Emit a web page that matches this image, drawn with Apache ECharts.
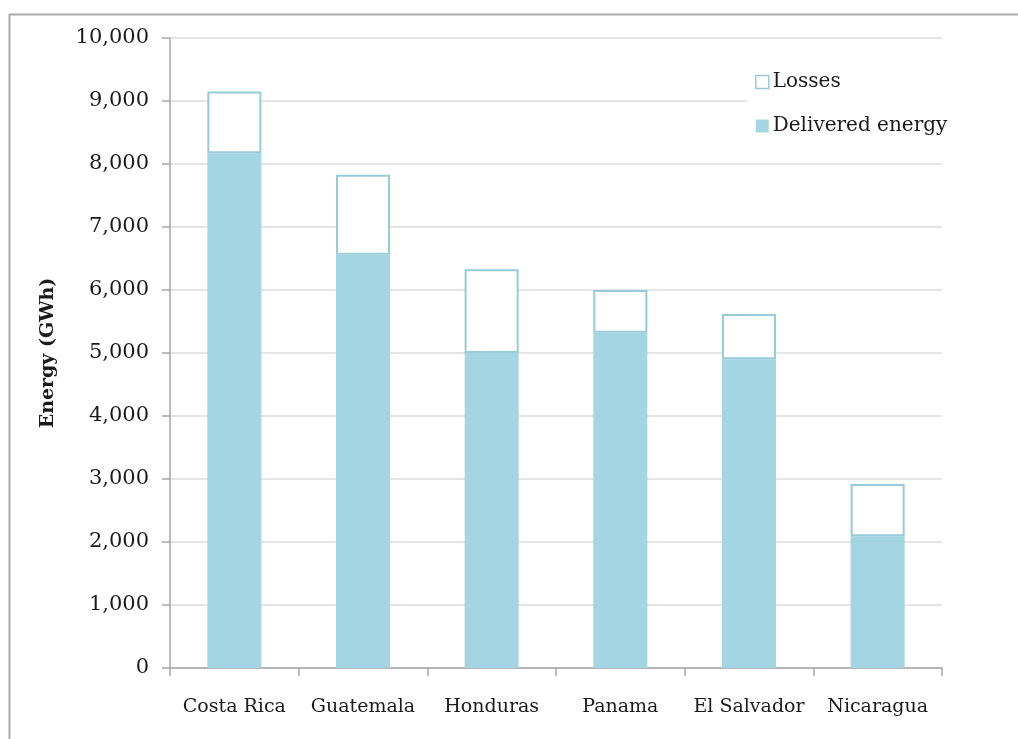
<!DOCTYPE html>
<html>
<head>
<meta charset="utf-8">
<script src="https://cdn.jsdelivr.net/npm/echarts@6/dist/echarts.min.js"></script>
<style>
  html, body { margin: 0; padding: 0; background: #fff; }
  #chart { width: 1018px; height: 739px; }
</style>
</head>
<body>
<div id="chart"></div>
<script>
// Electricity supplied per country, GWh
const countries = ['Costa Rica', 'Guatemala', 'Honduras', 'Panama', 'El Salvador', 'Nicaragua'];
const delivered = [8170, 6560, 5000, 5320, 4900, 2090];
const losses = [980, 1270, 1330, 680, 720, 830];
const yTicks = { min: 0, max: 10000, interval: 1000 };

const FONT = 'DejaVu Serif';
const INK = '#1a1a1a';
const BLUE = '#a4d5e2';
const EDGE = '#97cbda';

const chart = echarts.init(document.getElementById('chart'), null, { renderer: 'canvas' });

chart.setOption({
  backgroundColor: '#fff',
  animation: false,
  textStyle: { fontFamily: FONT, color: INK },
  graphic: [{
    type: 'rect',
    left: 7, top: 12,
    shape: { width: 1100, height: 800 },
    style: { fill: 'none', stroke: '#a9a9a9', lineWidth: 2 },
    silent: true, z: 0
  }],
  grid: { left: 170, right: 76, top: 38, bottom: 71, containLabel: false },
  legend: {
    data: [
      { name: 'Losses', itemStyle: { color: '#fff', borderColor: EDGE, borderWidth: 1.5 } },
      { name: 'Delivered energy', itemStyle: { color: BLUE } }
    ],
    icon: 'rect',
    orient: 'vertical',
    left: 747, top: 67,
    itemWidth: 13, itemHeight: 13,
    itemGap: 24,
    padding: [5, 8, 5, 8],
    backgroundColor: '#fff',
    textStyle: { fontFamily: FONT, fontSize: 20, color: INK, padding: [0, 0, 0, -1] },
    z: 10
  },
  xAxis: {
    type: 'category',
    data: countries,
    axisLine: { lineStyle: { color: '#a6a6a6', width: 1.5 } },
    axisTick: { show: true, interval: 0, length: 8, lineStyle: { color: '#a6a6a6', width: 1.5 } },
    axisLabel: { interval: 0, fontFamily: FONT, fontSize: 19, color: INK, margin: 30 }
  },
  yAxis: {
    type: 'value',
    min: yTicks.min, max: yTicks.max, interval: yTicks.interval,
    name: 'Energy (GWh)',
    nameLocation: 'middle',
    nameGap: 112,
    nameTextStyle: { fontFamily: FONT, fontSize: 19, fontWeight: 'bold', color: INK },
    axisLine: { show: true, lineStyle: { color: '#a6a6a6', width: 1.5 } },
    axisTick: { show: true, length: 8, lineStyle: { color: '#a6a6a6', width: 1.5 } },
    axisLabel: {
      fontFamily: FONT, fontSize: 21, color: INK, margin: 21,
      formatter: v => v.toLocaleString('en-US')
    },
    splitLine: { lineStyle: { color: '#dcdcdc', width: 1.5 } }
  },
  series: [
    {
      name: 'Delivered energy',
      type: 'bar',
      stack: 'total',
      data: delivered,
      barWidth: '42%',
      itemStyle: { color: BLUE }
    },
    {
      name: 'Losses',
      type: 'bar',
      stack: 'total',
      data: losses,
      barWidth: '42%',
      itemStyle: { color: '#fff', borderColor: EDGE, borderWidth: 2 }
    }
  ]
});
</script>
</body>
</html>
